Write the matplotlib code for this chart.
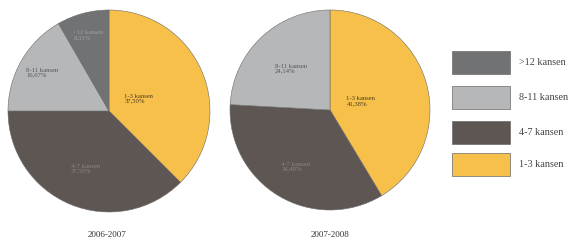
import matplotlib.pyplot as plt
from matplotlib.patches import Rectangle
import numpy as np

plt.rcParams["font.family"] = ["Liberation Serif", "DejaVu Serif"]

# %% Data
seasons = ["2006-2007", "2007-2008"]
categories = ["1-3 kansen", "4-7 kansen", "8-11 kansen", ">12 kansen"]
share_0607 = [37.50, 37.50, 16.67, 8.33]
share_0708 = [41.38, 34.48, 24.14, 0.0]
legend_order = [">12 kansen", "8-11 kansen", "4-7 kansen", "1-3 kansen"]
legend_labels = [">12 kansen", "8-11 kansen", "4-7 kansen", "1-3 kansen"]

colors = {
    "1-3 kansen": "#F7C04B",
    "4-7 kansen": "#5E5652",
    "8-11 kansen": "#B6B7B9",
    ">12 kansen": "#717274",
}
text_colors = {
    "1-3 kansen": "#4a3a20",
    "4-7 kansen": "#8c847e",
    "8-11 kansen": "#55575a",
    ">12 kansen": "#a0a0a2",
}

# layout in pixel space (y up)
W, H = 572, 242
pies = [
    dict(values=share_0607, center=(109, 131), radius=101,
         label_r=[0.32, 0.62, 0.76, 0.78], title_xy=(107, 7)),
    dict(values=share_0708, center=(330, 132), radius=100,
         label_r=[0.32, 0.66, 0.57, 0.0], title_xy=(330, 7)),
]

fig = plt.figure(figsize=(W / 100, H / 100), dpi=100)
ax = fig.add_axes([0, 0, 1, 1])

for season, p in zip(seasons, pies):
    vals = p["values"]
    keep = [i for i, v in enumerate(vals) if v > 0]
    wedges, _ = ax.pie(
        [vals[i] for i in keep],
        colors=[colors[categories[i]] for i in keep],
        startangle=90,
        counterclock=False,
        center=p["center"],
        radius=p["radius"],
        wedgeprops=dict(edgecolor="#6b6b6b", linewidth=0.4),
    )
    for w, i in zip(wedges, keep):
        mid = np.deg2rad((w.theta1 + w.theta2) / 2)
        r = p["label_r"][i] * p["radius"]
        x = p["center"][0] + r * np.cos(mid)
        y = p["center"][1] + r * np.sin(mid)
        pct = f"{vals[i]:.2f}%".replace(".", ",")
        ax.text(x, y, f"{categories[i]}\n{pct}", ha="center", va="center",
                multialignment="left", fontsize=4.8, linespacing=1.0,
                color=text_colors[categories[i]])
    ax.text(*p["title_xy"], season, ha="center", va="center",
            fontsize=6.5, color="#333333")

# legend boxes
box_tops = [51, 86, 121, 153]
for top, key, lab in zip(box_tops, legend_order, legend_labels):
    ax.add_patch(Rectangle((452, H - top - 23), 58, 23,
                           facecolor=colors[key], edgecolor="#6b6b6b", linewidth=0.5))
    ax.text(519, H - top - 11.5, lab, ha="left", va="center",
            fontsize=7.3, color="#444444")

ax.set_xlim(0, W)
ax.set_ylim(0, H)
ax.set_aspect("auto")
ax.axis("off")

fig.savefig("out.png", dpi=100)
